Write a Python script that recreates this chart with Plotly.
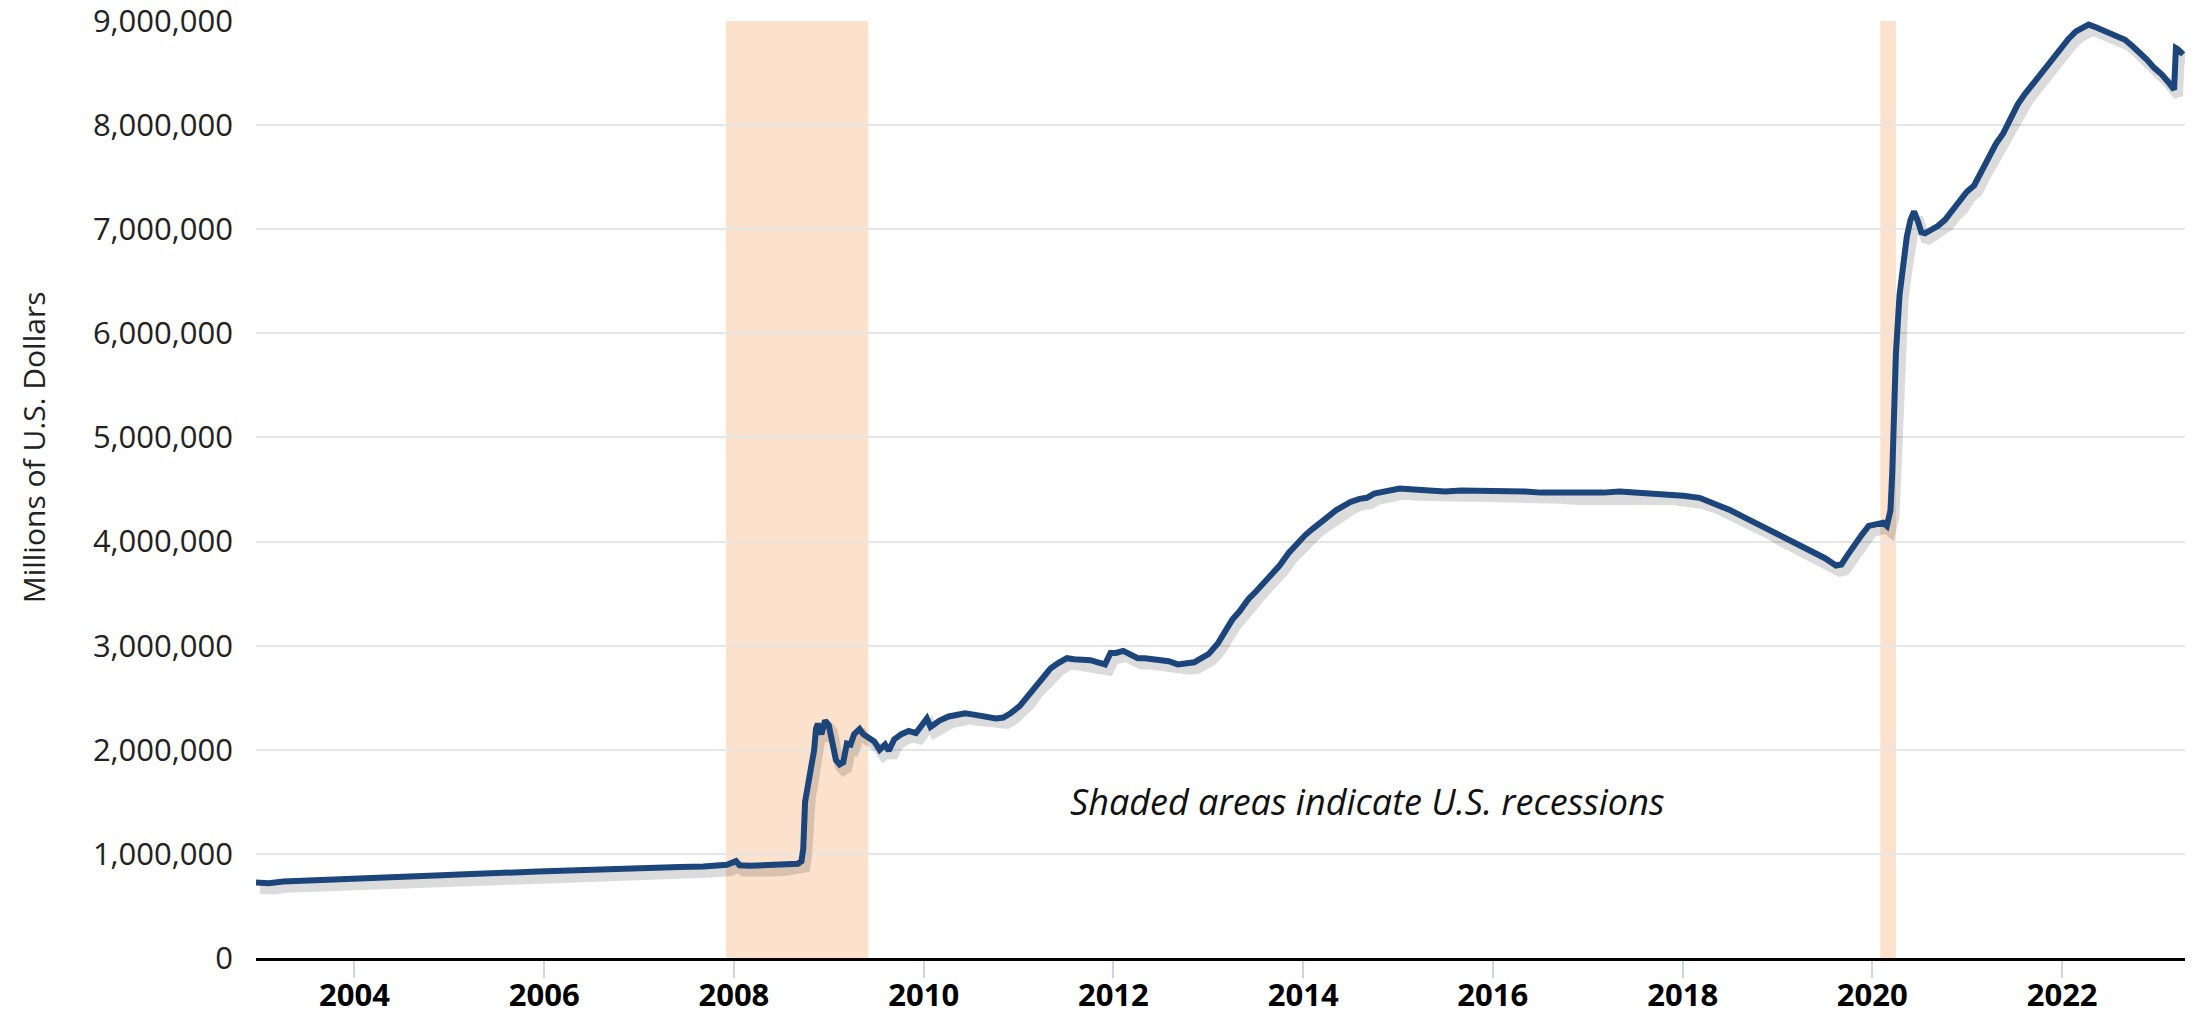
import plotly.graph_objects as go

# Fed total assets (millions of U.S. dollars), weekly series
dates = [
    "2002-12-18", "2003-02-05", "2003-04-02", "2003-06-04", "2003-09-03", "2003-12-03",
    "2004-03-03", "2004-06-02", "2004-09-01", "2004-12-01", "2005-03-02", "2005-06-01",
    "2005-09-07", "2005-12-07", "2006-03-01", "2006-06-07", "2006-09-06", "2006-12-06",
    "2007-03-07", "2007-06-06", "2007-09-05", "2007-12-05", "2008-01-09", "2008-01-23",
    "2008-03-05", "2008-05-07", "2008-07-02", "2008-09-03", "2008-09-17", "2008-09-24",
    "2008-10-01", "2008-10-08", "2008-10-22", "2008-11-05", "2008-11-12", "2008-11-19",
    "2008-12-03", "2008-12-17", "2008-12-31", "2009-01-14", "2009-01-28", "2009-02-11",
    "2009-02-25", "2009-03-11", "2009-03-25", "2009-04-08", "2009-04-29", "2009-05-13",
    "2009-06-03", "2009-06-24", "2009-07-15", "2009-08-05", "2009-08-19", "2009-09-09",
    "2009-10-07", "2009-11-04", "2009-12-02", "2009-12-30", "2010-01-13", "2010-01-27",
    "2010-03-03", "2010-04-07", "2010-05-05", "2010-06-09", "2010-07-07", "2010-08-04",
    "2010-09-01", "2010-10-06", "2010-11-03", "2010-12-01", "2011-01-05", "2011-02-02",
    "2011-03-02", "2011-04-06", "2011-05-04", "2011-06-01", "2011-07-06", "2011-08-03",
    "2011-09-07", "2011-10-05", "2011-11-02", "2011-11-30", "2011-12-21", "2012-01-11",
    "2012-02-08", "2012-03-07", "2012-04-04", "2012-05-02", "2012-06-06", "2012-07-04",
    "2012-08-01", "2012-09-05", "2012-10-03", "2012-11-07", "2012-12-05", "2013-01-02",
    "2013-02-06", "2013-03-06", "2013-04-03", "2013-05-01", "2013-06-05", "2013-07-03",
    "2013-08-07", "2013-09-04", "2013-10-02", "2013-11-06", "2013-12-04", "2014-01-08",
    "2014-02-05", "2014-03-05", "2014-04-02", "2014-05-07", "2014-06-04", "2014-07-02",
    "2014-08-06", "2014-09-03", "2014-10-01", "2014-11-05", "2014-12-03", "2015-01-07",
    "2015-03-04", "2015-05-06", "2015-07-01", "2015-09-02", "2015-11-04", "2016-01-06",
    "2016-03-02", "2016-05-04", "2016-07-06", "2016-09-07", "2016-11-02", "2017-01-04",
    "2017-03-01", "2017-05-03", "2017-07-05", "2017-09-06", "2017-11-01", "2018-01-03",
    "2018-03-07", "2018-05-02", "2018-07-04", "2018-09-05", "2018-11-07", "2019-01-02",
    "2019-03-06", "2019-05-01", "2019-07-03", "2019-08-14", "2019-09-04", "2019-09-25",
    "2019-10-23", "2019-11-20", "2019-12-18", "2020-01-15", "2020-02-12", "2020-02-26",
    "2020-03-11", "2020-03-18", "2020-03-25", "2020-04-01", "2020-04-15", "2020-04-29",
    "2020-05-13", "2020-05-27", "2020-06-10", "2020-06-24", "2020-07-08", "2020-07-22",
    "2020-08-12", "2020-09-09", "2020-10-07", "2020-11-04", "2020-12-02", "2020-12-30",
    "2021-01-27", "2021-02-24", "2021-03-24", "2021-04-21", "2021-05-19", "2021-06-16",
    "2021-07-14", "2021-08-11", "2021-09-08", "2021-10-06", "2021-11-03", "2021-12-01",
    "2021-12-29", "2022-01-26", "2022-02-23", "2022-03-23", "2022-04-13", "2022-05-11",
    "2022-06-08", "2022-07-06", "2022-08-03", "2022-08-31", "2022-09-28", "2022-10-26",
    "2022-11-23", "2022-12-21", "2023-01-18", "2023-02-15", "2023-03-08", "2023-03-15",
    "2023-03-22", "2023-04-12",
]
total_assets = [
    725000, 718000, 735000, 740000, 748000, 758000,
    760000, 770000, 782000, 795000, 805000, 818000,
    822000, 830000, 838000, 850000, 852000, 862000,
    865000, 875000, 878000, 895000, 930000, 890000,
    885000, 890000, 895000, 905000, 930000, 1050000,
    1500000, 1600000, 1800000, 2000000, 2200000, 2250000,
    2150000, 2280000, 2240000, 2050000, 1900000, 1860000,
    1880000, 2060000, 2050000, 2150000, 2200000, 2150000,
    2120000, 2080000, 2000000, 2050000, 1990000, 2100000,
    2150000, 2180000, 2160000, 2240000, 2300000, 2220000,
    2280000, 2320000, 2330000, 2350000, 2340000, 2330000,
    2320000, 2300000, 2310000, 2350000, 2420000, 2500000,
    2600000, 2700000, 2780000, 2830000, 2880000, 2870000,
    2870000, 2860000, 2840000, 2820000, 2930000, 2930000,
    2950000, 2910000, 2880000, 2880000, 2870000, 2860000,
    2850000, 2820000, 2830000, 2840000, 2880000, 2920000,
    3020000, 3150000, 3250000, 3330000, 3450000, 3520000,
    3620000, 3680000, 3770000, 3890000, 3970000, 4060000,
    4120000, 4180000, 4230000, 4300000, 4340000, 4380000,
    4410000, 4420000, 4460000, 4480000, 4500000, 4510000,
    4500000, 4490000, 4480000, 4490000, 4490000, 4490000,
    4480000, 4480000, 4470000, 4470000, 4460000, 4460000,
    4470000, 4480000, 4470000, 4460000, 4460000, 4440000,
    4420000, 4370000, 4300000, 4220000, 4140000, 4060000,
    3980000, 3920000, 3840000, 3770000, 3780000, 3860000,
    3970000, 4060000, 4150000, 4170000, 4180000, 4150000,
    4300000, 4670000, 5250000, 5810000, 6370000, 6650000,
    6930000, 7090000, 7170000, 7080000, 6970000, 6960000,
    6990000, 7030000, 7090000, 7180000, 7250000, 7360000,
    7420000, 7560000, 7690000, 7820000, 7920000, 8060000,
    8200000, 8300000, 8390000, 8480000, 8560000, 8650000,
    8760000, 8830000, 8900000, 8940000, 8965000, 8940000,
    8910000, 8890000, 8860000, 8820000, 8760000, 8700000,
    8630000, 8550000, 8490000, 8410000, 8340000, 8740000,
    8730000, 8680000,
]

# NBER recessions
recession_start = ["2007-12-01", "2020-02-01"]
recession_end = ["2009-06-01", "2020-04-01"]

x_range = ["2002-12-18", "2023-04-19"]
y_range = [0, 9000000]
shadow_x_range = ["2002-12-03", "2023-04-04"]   # shadow sits a few px right
shadow_y_range = [60000, 9060000]               # and a few px down

LINE = "#1b457b"
FONT = "Open Sans"

fig = go.Figure()

fig.add_trace(go.Scatter(x=dates, y=total_assets, mode="lines",
                         line=dict(color="rgba(0,0,0,0.14)", width=10),
                         xaxis="x2", yaxis="y2", hoverinfo="skip", showlegend=False))
fig.add_trace(go.Scatter(x=dates, y=total_assets, mode="lines",
                         line=dict(color=LINE, width=6),
                         xaxis="x3", yaxis="y3", showlegend=False))

for s, e in zip(recession_start, recession_end):
    fig.add_vrect(x0=s, x1=e, fillcolor="#fce1cc", opacity=1, line_width=0, layer="below")

fig.update_layout(
    width=2193, height=1015,
    margin=dict(l=256, r=8, t=21, b=57),
    plot_bgcolor="white", paper_bgcolor="white",
    font=dict(family=FONT, color="#222222"),
    xaxis=dict(range=x_range, type="date", tick0="2004-01-01", dtick="M24", tickformat="%Y",
               automargin=False, showgrid=False, showline=True, linecolor="black", linewidth=3,
               ticks="outside", ticklen=17, tickwidth=1.5, tickcolor="#c9d6e6",
               ticklabeloverflow="allow", ticklabelstandoff=-9,
               tickfont=dict(family=FONT, size=31, color="black", weight="bold")),
    yaxis=dict(range=y_range, dtick=1000000, tickformat=",d", automargin=False,
               showgrid=True, gridcolor="#e6e6e6", gridwidth=1.5, zeroline=False,
               ticklabelstandoff=22, ticklabeloverflow="allow",
               tickfont=dict(family=FONT, size=31, color="#222222")),
    xaxis2=dict(range=shadow_x_range, type="date", overlaying="x", visible=False),
    yaxis2=dict(range=shadow_y_range, overlaying="y", visible=False),
    xaxis3=dict(range=x_range, type="date", overlaying="x", visible=False),
    yaxis3=dict(range=y_range, overlaying="y", visible=False),
)

fig.add_annotation(text="Millions of U.S. Dollars", xref="paper", yref="paper",
                   x=-0.1156, y=0.545, xanchor="center", yanchor="middle",
                   textangle=-90, showarrow=False,
                   font=dict(family=FONT, size=30, color="#222222"))
fig.add_annotation(text="<i>Shaded areas indicate U.S. recessions</i>", xref="paper", yref="paper",
                   x=0.576, y=0.1665, xanchor="center", yanchor="middle", showarrow=False,
                   font=dict(family=FONT, size=36, color="#111111"))

# drop the default 8px body margin so the figure fills the window exactly
fig.write_html("out.html", config={"displayModeBar": False},
               post_script="document.body.style.margin='0';")
